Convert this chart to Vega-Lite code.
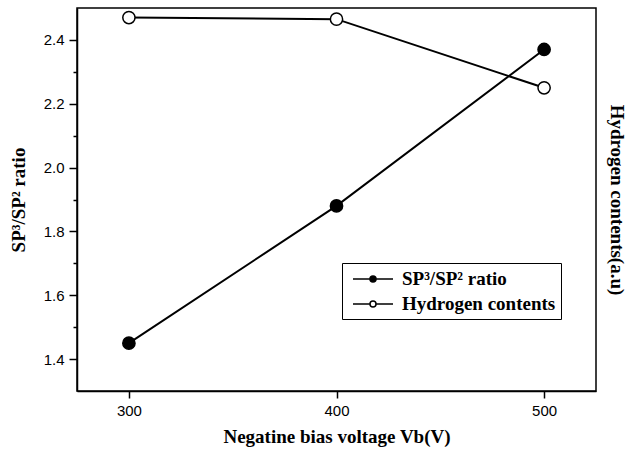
{
  "$schema": "https://vega.github.io/schema/vega-lite/v6.json",
  "width": 519,
  "height": 383,
  "autosize": "none",
  "padding": {"left": 77, "top": 8, "right": 31, "bottom": 63},
  "background": "white",
  "config": {
    "view": {"stroke": "black", "strokeWidth": 1.5},
    "axis": {
      "labelFont": "Liberation Sans",
      "labelFontSize": 15,
      "labelColor": "black",
      "titleFont": "Liberation Serif",
      "titleFontSize": 19,
      "titleFontWeight": "bold",
      "titleColor": "black",
      "domainColor": "black",
      "domainWidth": 1.5,
      "tickColor": "black",
      "tickWidth": 1.5,
      "grid": false
    },
    "legend": {
      "labelFont": "Liberation Serif",
      "labelFontSize": 19,
      "labelFontWeight": "bold",
      "labelColor": "black"
    }
  },
  "data": {
    "values": [
      {"voltage": 300, "series": "SP³/SP² ratio", "value": 1.45},
      {"voltage": 400, "series": "SP³/SP² ratio", "value": 1.88},
      {"voltage": 500, "series": "SP³/SP² ratio", "value": 2.37},
      {"voltage": 300, "series": "Hydrogen contents", "value": 2.47},
      {"voltage": 400, "series": "Hydrogen contents", "value": 2.465},
      {"voltage": 500, "series": "Hydrogen contents", "value": 2.25}
    ]
  },
  "layer": [
    {
      "transform": [{"filter": "datum.series == 'SP³/SP² ratio'"}],
      "encoding": {
        "x": {
          "field": "voltage",
          "type": "quantitative",
          "scale": {"domain": [275, 525], "nice": false, "zero": false},
          "axis": {"values": [300, 400, 500], "title": "Negatine bias voltage Vb(V)", "tickSize": 7, "labelPadding": 5, "titlePadding": 9, "labelFlush": false}
        },
        "y": {
          "field": "value",
          "type": "quantitative",
          "scale": {"domain": [1.3, 2.5], "nice": false, "zero": false},
          "axis": {
            "orient": "left",
            "values": [1.4, 1.5, 1.6, 1.7, 1.8, 1.9, 2.0, 2.1, 2.2, 2.3, 2.4],
            "labelExpr": "round(datum.value*10)%2==0 ? format(datum.value,'.1f') : ''",
            "tickSize": {"condition": {"test": "round(datum.value*10)%2==0", "value": 8}, "value": 4},
            "labelOverlap": false,
            "labelPadding": 5,
            "title": "SP³/SP² ratio",
            "titlePadding": 15
          }
        }
      },
      "layer": [
        {"mark": {"type": "line", "color": "black", "strokeWidth": 2}},
        {
          "mark": {"type": "circle", "stroke": "black", "strokeWidth": 1.5, "size": 150, "opacity": 1},
          "encoding": {
            "fill": {
              "field": "series",
              "type": "nominal",
              "scale": {"domain": ["SP³/SP² ratio", "Hydrogen contents"], "range": ["black", "white"]},
              "legend": {
                "title": null,
                "orient": "none",
                "legendX": 265,
                "legendY": 255,
                "padding": 5,
                "strokeColor": "black",
                "symbolType": "M-0.5,0H1.2M1.8,0H3.5M1.8,0A0.3,0.3,0,1,1,1.2,0A0.3,0.3,0,1,1,1.8,0",
                "symbolSize": 400,
                "symbolStrokeColor": "black",
                "symbolStrokeWidth": 1.5,
                "symbolOpacity": 1,
                "labelOffset": 33,
                "rowPadding": 4
              }
            }
          }
        }
      ]
    },
    {
      "transform": [{"filter": "datum.series == 'Hydrogen contents'"}],
      "encoding": {
        "x": {
          "field": "voltage",
          "type": "quantitative",
          "scale": {"domain": [275, 525], "nice": false, "zero": false},
          "axis": {"values": [300, 400, 500], "title": "Negatine bias voltage Vb(V)", "tickSize": 7, "labelPadding": 5, "titlePadding": 9, "labelFlush": false}
        },
        "y": {
          "field": "value",
          "type": "quantitative",
          "scale": {"domain": [1.3, 2.5], "nice": false, "zero": false},
          "axis": {
            "orient": "right",
            "title": "Hydrogen contents(a.u)",
            "labels": false,
            "ticks": false,
            "domain": false,
            "titleAngle": 90,
            "titlePadding": 10
          }
        }
      },
      "layer": [
        {"mark": {"type": "line", "color": "black", "strokeWidth": 2}},
        {
          "mark": {"type": "circle", "stroke": "black", "strokeWidth": 1.5, "size": 150, "opacity": 1},
          "encoding": {
            "fill": {
              "field": "series",
              "type": "nominal",
              "scale": {"domain": ["SP³/SP² ratio", "Hydrogen contents"], "range": ["black", "white"]}
            }
          }
        }
      ]
    }
  ],
  "resolve": {"scale": {"y": "independent"}}
}
